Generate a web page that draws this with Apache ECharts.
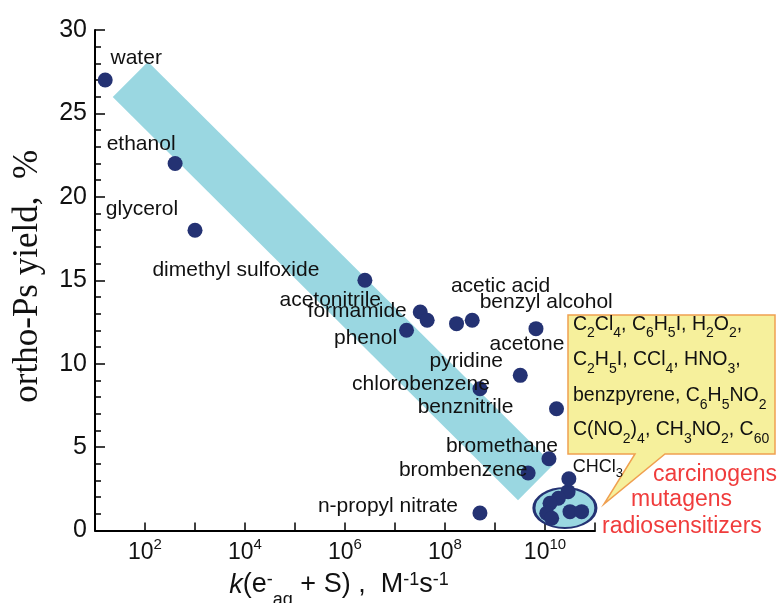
<!DOCTYPE html>
<html>
<head>
<meta charset="utf-8">
<script src="https://cdn.jsdelivr.net/npm/echarts@6/dist/echarts.min.js"></script>
<style>
html,body{margin:0;padding:0;background:#fff;}
#chart{width:779px;height:603px;}
</style>
</head>
<body>
<div id="chart"></div>
<script>
// ---------------- data ----------------
const names = ['water','ethanol','glycerol','dimethyl sulfoxide','acetonitrile','formamide','phenol',
  'acetic acid','benzyl alcohol','acetone','pyridine','chlorobenzene','benznitrile','bromethane',
  'brombenzene','CHCl3','n-propyl nitrate'];
const rateK = [16, 400, 1000, 2.5e6, 3.2e7, 4.4e7, 1.7e7, 1.7e8, 3.5e8, 6.6e9, 3.2e9, 5e8,
  1.7e10, 1.2e10, 4.6e9, 3.0e10, 5e8];
const yieldPct = [27, 22, 18, 15, 13.1, 12.6, 12.0, 12.4, 12.6, 12.1, 9.3, 8.5, 7.3, 4.3, 3.45, 3.1, 1.05];

// unlabeled cluster of carcinogens / mutagens / radiosensitizers
const clusterK = [2.9e10, 1.85e10, 1.26e10, 1.08e10, 1.36e10, 3.16e10, 5.4e10];
const clusterY = [2.33, 1.93, 1.63, 1.03, 0.73, 1.13, 1.13];

// ellipse around cluster (centre)
const ellipseK = [2.5e10];
const ellipseY = [1.35];

// trend band end points
const bandK = [51, 6.5e9];
const bandY = [27.04, 2.88];

const yTicks = [0, 5, 10, 15, 20, 25, 30];
const xLabelExponents = [2, 4, 6, 8, 10];

const calloutLines = ['C_2Cl_4, C_6H_5I, H_2O_2,', 'C_2H_5I, CCl_4, HNO_3,', 'benzpyrene, C_6H_5NO_2', 'C(NO_2)_4, CH_3NO_2, C_60'];
const redLines = ['carcinogens', 'mutagens', 'radiosensitizers'];

// ---------------- styles ----------------
const SANS = '"Liberation Sans", Arial, sans-serif';
const SERIF = '"Liberation Serif", "Times New Roman", serif';
const DOT = '#243273';
const BAND = '#9ad7e1';
const INK = '#111';

const labelOffsets = {
  'water':[31,-22], 'ethanol':[-34,-19], 'glycerol':[-53,-21], 'dimethyl sulfoxide':[-129,-10],
  'acetonitrile':[-90,-12], 'formamide':[-70,-9], 'phenol':[-41,8], 'acetic acid':[44,-37],
  'benzyl alcohol':[74,-18], 'acetone':[-9,16], 'pyridine':[-54,-14], 'chlorobenzene':[-59,-4],
  'benznitrile':[-91,-2], 'bromethane':[-47,-13], 'brombenzene':[-65,-3], 'CHCl3':[29,-10],
  'n-propyl nitrate':[-92,-7]
};

function toRich(s){
  return s.split(/(_\d+)/).filter(p => p.length).map(p =>
    p[0] === '_' ? '{s|' + p.slice(1) + '}' : '{b|' + p + '}').join('');
}

const pointData = names.map((n, i) => {
  const lab = {
    show: true, position: 'inside', offset: labelOffsets[n], color: INK,
    fontFamily: SANS, fontSize: 21
  };
  if (n === 'CHCl3') {
    lab.formatter = toRich('CHCl_3');
    lab.rich = {
      b: {fontFamily: SANS, fontSize: 18, lineHeight: 22, verticalAlign: 'top', color: INK},
      s: {fontFamily: SANS, fontSize: 13, lineHeight: 22, verticalAlign: 'bottom', color: INK}
    };
  } else {
    lab.formatter = n;
  }
  return {name: n, value: [rateK[i], yieldPct[i]], label: lab};
});

const graphics = [];
graphics.push({
  type: 'polygon',
  shape: {points: [[568,315],[775,315],[775,454],[665,454],[604,504],[635,454],[568,454]]},
  style: {fill: '#f6f09c', stroke: '#f0a050', lineWidth: 1.5}
});
const calloutTops = [314.5, 350, 386, 420];
calloutLines.forEach((line, i) => {
  graphics.push({
    type: 'text', x: 573, y: calloutTops[i],
    style: {
      text: toRich(line), align: 'left', verticalAlign: 'top',
      rich: {
        b: {fontFamily: SANS, fontSize: 19.5, lineHeight: 26, verticalAlign: 'top', fill: INK},
        s: {fontFamily: SANS, fontSize: 14, lineHeight: 26, verticalAlign: 'bottom', fill: INK}
      }
    }
  });
});
const redX = [653, 631, 602];
const redY = [475, 500, 527];
redLines.forEach((t, i) => {
  graphics.push({
    type: 'text', x: redX[i], y: redY[i],
    style: {text: t, align: 'left', verticalAlign: 'middle', fill: '#f03c3c',
      fontFamily: SANS, fontSize: 23}
  });
});
// x-axis title
graphics.push({
  type: 'text', x: 339, y: 571.5,
  style: {
    text: '{i|k}{n|(e}{p|-}{d|aq}{n| + S) ,  M}{p|-1}{n|s}{p|-1}',
    align: 'center', verticalAlign: 'top',
    rich: {
      i: {fontFamily: SANS, fontSize: 27, fontStyle: 'italic', lineHeight: 38, verticalAlign: 'top', fill: INK},
      n: {fontFamily: SANS, fontSize: 27, lineHeight: 38, verticalAlign: 'top', fill: INK},
      p: {fontFamily: SANS, fontSize: 18, lineHeight: 38, verticalAlign: 'top', fill: INK},
      d: {fontFamily: SANS, fontSize: 18, lineHeight: 38, verticalAlign: 'bottom', fill: INK}
    }
  }
});

const chart = echarts.init(document.getElementById('chart'), null, {renderer: 'canvas'});
chart.setOption({
  animation: false,
  backgroundColor: '#fff',
  grid: {left: 95, right: 184, top: 30, bottom: 72.5, containLabel: false, outerBoundsMode: 'none'},
  xAxis: {
    type: 'log', logBase: 10, min: 10, max: 1e11, interval: 1, splitNumber: 10,
    axisLine: {show: true, lineStyle: {color: '#000', width: 2}},
    axisTick: {show: true, inside: true, length: 8, lineStyle: {color: '#000', width: 1.5}},
    splitLine: {show: false},
    axisLabel: {
      margin: 7, showMinLabel: true, showMaxLabel: true,
      formatter: v => {
        const e = Math.round(Math.log10(v));
        return xLabelExponents.indexOf(e) >= 0 ? '{b|10}{s|' + e + '}' : '';
      },
      rich: {
        b: {fontFamily: SANS, fontSize: 23, lineHeight: 27, verticalAlign: 'bottom', color: INK},
        s: {fontFamily: SANS, fontSize: 15, lineHeight: 27, verticalAlign: 'top', color: INK}
      }
    }
  },
  yAxis: {
    type: 'value', min: yTicks[0], max: yTicks[yTicks.length - 1], interval: 5,
    axisLine: {show: true, lineStyle: {color: '#000', width: 2}},
    axisTick: {show: true, inside: true, length: 10, lineStyle: {color: '#000', width: 1.5}},
    minorTick: {show: true, splitNumber: 5, length: 6, lineStyle: {color: '#000', width: 1.5}},
    splitLine: {show: false},
    axisLabel: {margin: 8, color: INK, fontFamily: SANS, fontSize: 25},
    name: 'ortho-Ps yield,  %', nameLocation: 'middle', nameRotate: 90, nameGap: 50,
    nameTextStyle: {fontFamily: SERIF, fontSize: 35, color: INK, padding: [0, 0, 0, 8]}
  },
  series: [
    {
      type: 'line', silent: true, symbol: 'none', z: 1,
      data: bandK.map((k, i) => [k, bandY[i]]),
      lineStyle: {color: BAND, width: 50, cap: 'butt'}
    },
    {
      type: 'scatter', silent: true, z: 2,
      data: ellipseK.map((k, i) => [k, ellipseY[i]]),
      symbol: 'circle', symbolSize: [62, 40],
      itemStyle: {color: BAND, borderColor: DOT, borderWidth: 2.5, opacity: 1}
    },
    {
      type: 'scatter', silent: true, z: 3,
      data: clusterK.map((k, i) => [k, clusterY[i]]),
      symbol: 'circle', symbolSize: 15,
      itemStyle: {color: DOT, opacity: 1}
    },
    {
      type: 'scatter', silent: true, z: 4,
      data: pointData,
      symbol: 'circle', symbolSize: 15,
      itemStyle: {color: DOT, opacity: 1}
    }
  ],
  graphic: graphics
});
</script>
</body>
</html>
